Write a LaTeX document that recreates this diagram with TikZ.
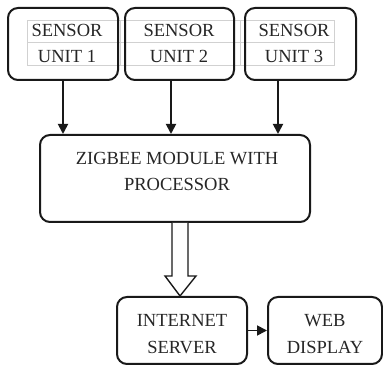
\documentclass[tikz,border=0pt]{standalone}
\usepackage{fontspec}
\setmainfont{Liberation Serif}
\usetikzlibrary{arrows.meta,calc}
\begin{document}
\begin{tikzpicture}[x=1pt,y=1pt,
  box/.style={draw=black!90, line width=2pt, rounded corners=10pt, inner sep=0pt},
  lbl/.style={anchor=base, inner sep=0pt, font=\fontsize{18.5}{22}\selectfont, text=black!85},
  arr/.style={draw=black!90, line width=1.8pt, -{Triangle[length=10pt,width=10pt]}},
  cellgrid/.style={draw=black!18, line width=0.8pt},
  hollow/.style={draw=black!90, line width=1.4pt, fill=white, line join=miter}]
\useasboundingbox (0,0) rectangle (383,366);

% light table grid behind the sensor labels
\draw[cellgrid] (27,346) rectangle (334,301);
\draw[cellgrid] (27,324) -- (334,324);
\draw[cellgrid] (120,346) -- (120,301);
\draw[cellgrid] (240,346) -- (240,301);

% boxes
\node[box, minimum width=110pt, minimum height=72pt] (s1) at (63,322) {};
\node[box, minimum width=109pt, minimum height=72pt] (s2) at (179.5,322) {};
\node[box, minimum width=111pt, minimum height=72pt] (s3) at (300.5,322) {};
\node[box, minimum width=270pt, minimum height=87pt] (zig) at (175,187.5) {};
\node[box, minimum width=130pt, minimum height=67pt] (inet) at (182,35.5) {};
\node[box, minimum width=114pt, minimum height=67pt] (web) at (325,35.5) {};

% labels
\node[lbl] (t1a) at (67,329) {SENSOR};
\node[lbl] (t1b) at (67,303) {UNIT 1};
\node[lbl] (t2a) at (179,329) {SENSOR};
\node[lbl] (t2b) at (179,303) {UNIT 2};
\node[lbl] (t3a) at (294,329) {SENSOR};
\node[lbl] (t3b) at (294,303) {UNIT 3};
\node[lbl] (tza) at (177,201) {ZIGBEE MODULE WITH};
\node[lbl] (tzb) at (177,175) {PROCESSOR};
\node[lbl] (tia) at (182,39) {INTERNET};
\node[lbl] (tib) at (182,12) {SERVER};
\node[lbl] (twa) at (325,39) {WEB};
\node[lbl] (twb) at (325,12) {DISPLAY};

% sensor links
\coordinate (a1) at (s1.south);
\coordinate (a2) at ($(s2.south)+(-8.5,0)$);
\coordinate (a3) at ($(s3.south)+(-22.5,0)$);
\draw[arr] (a1) -- (a1 |- zig.north);
\draw[arr] (a2) -- (a2 |- zig.north);
\draw[arr] (a3) -- (a3 |- zig.north);

% wide hollow arrow to the server
\coordinate (tip) at ($(inet.north)+(-2,0)$);
\draw[hollow] ($(tip |- zig.south)+(-8,0)$) -- ($(tip)+(-8,20)$) -- ($(tip)+(-15,20)$)
  -- (tip) -- ($(tip)+(16,20)$) -- ($(tip)+(8,20)$) -- ($(tip |- zig.south)+(8,0)$);

% server to display
\draw[arr] (inet.east) -- (web.west);
\end{tikzpicture}
\end{document}
